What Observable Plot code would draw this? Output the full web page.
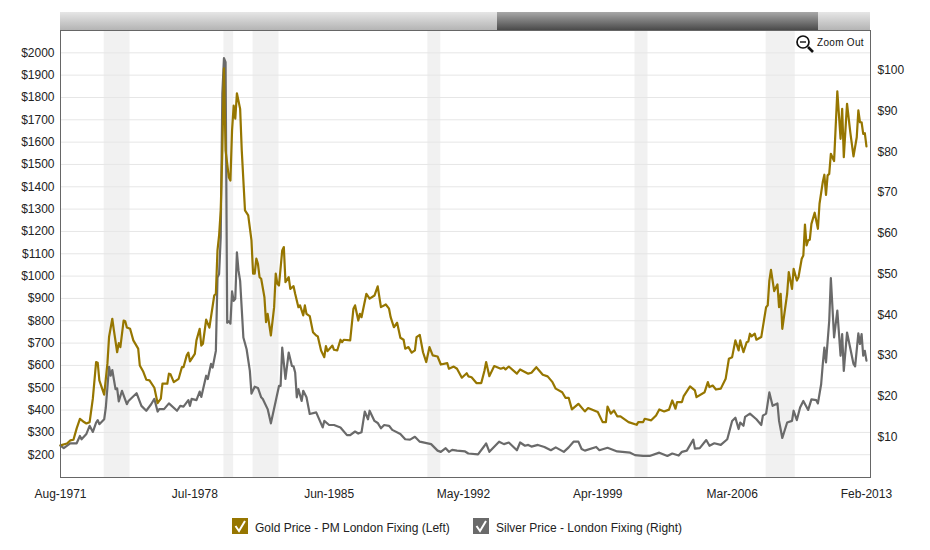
<!DOCTYPE html>
<html>
<head>
<meta charset="utf-8">
<script src="https://cdn.jsdelivr.net/npm/d3@7"></script>
<script src="https://cdn.jsdelivr.net/npm/@observablehq/plot@0.6"></script>
<style>
html,body{margin:0;padding:0;background:#fff;overflow:hidden;font-family:"Liberation Sans",Arial,sans-serif;}
#wrap{position:relative;width:930px;height:550px;}
#wrap svg.plot{position:absolute;left:0;top:0;}
.slide{position:absolute;top:12px;height:18px;}
.light{background:linear-gradient(#e6e6e6,#b4b4b4);}
.dark{background:linear-gradient(#a8a8a8,#4a4a4a);}
.leg{position:absolute;top:518px;height:16px;font-size:12px;line-height:20px;color:#222;white-space:nowrap;}
.leg svg{position:absolute;left:0;top:0;}
.leg span{position:absolute;left:23px;top:0;}
#zoomout{position:absolute;left:795px;top:34px;width:72px;height:20px;font-size:10px;color:#111;}
#zoomout svg{position:absolute;left:0;top:0;}
#zoomout span{position:absolute;left:22px;top:3px;letter-spacing:.3px;white-space:nowrap;}
</style>
</head>
<body>
<div id="wrap"></div>
<script>
// x values are months counted from Aug-1971
const xTickMonths = [0, 83, 166, 249, 332, 415, 498];
const xTickLabels = ["Aug-1971", "Jul-1978", "Jun-1985", "May-1992", "Apr-1999", "Mar-2006", "Feb-2013"];
const goldTicks = [200,300,400,500,600,700,800,900,1000,1100,1200,1300,1400,1500,1600,1700,1800,1900,2000];
const silverTicks = [10,20,30,40,50,60,70,80,90,100];
const recessions = [[27,43],[101,107],[119,135],[227,235],[355,363],[436,454]];
const goldDomain = [98, 2100];
const silverDomain = [0, 109.8];

const goldSeries = [[0,242],[4,250],[6,264],[8,267],[10,318],[12,361],[14,349],[16,340],[18,346],[20,452],[22,615],[23,612],[24,533],[27,469],[29,609],[30,727],[32,809],[33,757],[35,659],[36,700],[37,682],[39,801],[40,798],[41,770],[43,764],[45,712],[48,675],[49,600],[51,574],[53,536],[55,533],[58,500],[60,431],[62,451],[63,518],[66,518],[67,563],[68,560],[70,525],[73,540],[75,592],[76,592],[78,645],[79,657],[80,618],[83,652],[84,712],[86,764],[87,689],[88,697],[90,805],[92,769],[95,913],[96,921],[97,1115],[98,1182],[99,1294],[100,1563],[101,1930],[102,1563],[104,1443],[105,1428],[106,1652],[107,1764],[108,1705],[109,1819],[111,1749],[112,1563],[114,1294],[116,1272],[118,1160],[119,1011],[120,1011],[121,1078],[122,1055],[123,995],[124,988],[126,906],[127,794],[128,831],[130,734],[132,861],[133,1011],[134,966],[135,958],[137,1115],[138,1130],[139,973],[141,995],[142,943],[144,955],[145,921],[147,861],[148,869],[150,824],[151,869],[152,831],[154,821],[156,749],[158,734],[159,730],[161,667],[163,637],[164,686],[165,664],[168,689],[169,670],[171,667],[173,715],[174,704],[175,715],[179,712],[181,854],[182,869],[184,801],[185,831],[186,816],[189,921],[191,899],[194,913],[196,954],[198,861],[201,873],[203,854],[204,816],[206,771],[208,791],[210,724],[212,715],[213,675],[215,682],[217,657],[219,667],[220,727],[222,737],[224,659],[226,615],[228,682],[230,645],[233,640],[235,604],[239,610],[240,585],[243,595],[245,585],[248,545],[251,565],[252,551],[254,547],[257,521],[260,521],[262,577],[263,615],[265,552],[268,597],[272,585],[274,590],[275,582],[277,595],[282,563],[284,582],[289,563],[291,567],[294,592],[298,558],[301,551],[304,525],[306,496],[310,480],[312,455],[314,455],[316,403],[320,428],[324,394],[326,409],[332,391],[335,346],[337,346],[338,416],[340,384],[342,398],[344,372],[346,372],[351,346],[356,334],[357,346],[360,346],[361,361],[365,354],[368,376],[370,403],[373,394],[376,402],[378,443],[380,406],[381,436],[384,436],[385,461],[389,506],[392,488],[393,458],[398,480],[400,525],[401,503],[403,510],[405,492],[408,496],[411,540],[413,630],[415,637],[417,712],[419,667],[420,712],[422,659],[424,704],[425,707],[426,742],[427,730],[429,742],[430,715],[433,727],[436,861],[437,869],[438,980],[439,1028],[441,933],[443,963],[444,861],[445,921],[446,764],[449,921],[450,1018],[452,943],[453,1033],[455,980],[456,995],[458,1078],[459,1092],[460,1231],[461,1137],[462,1160],[463,1163],[464,1234],[466,1284],[468,1212],[469,1324],[471,1421],[472,1454],[473,1364],[474,1451],[475,1458],[476,1548],[478,1515],[480,1828],[482,1615],[483,1749],[484,1533],[486,1772],[488,1645],[490,1536],[492,1622],[493,1742],[494,1689],[495,1689],[496,1637],[497,1640],[498,1581]];

const silverSeries = [[0,7.8],[2,7.2],[6,8.4],[10,8.4],[12,10.2],[13,9.4],[16,10.7],[18,12.7],[20,11.2],[22,13.5],[23,14.1],[24,13.1],[27,14.3],[28,17.2],[30,27.2],[31,25],[32,26.4],[34,21.7],[35,21.9],[36,18.7],[38,21.3],[41,18],[42,18.8],[47,20.7],[50,17.6],[53,16.4],[56,18],[58,19.3],[60,16.2],[61,16.8],[64,16.8],[67,18.2],[72,16.4],[74,17.6],[76,17.4],[79,19],[80,17.6],[81,19.3],[84,19],[86,21.1],[87,19.8],[90,25],[91,24.2],[93,27.9],[94,27],[96,31.1],[97,49.1],[98,50],[99,59],[100,94.3],[101,103],[102,102],[103,38],[104,38.4],[105,37.8],[106,45.7],[107,43.4],[108,43.9],[109,55.3],[110,50.8],[111,48.3],[113,34.4],[115,31.5],[117,26.2],[118,20.6],[120,22.3],[122,22],[124,19.7],[125,19.3],[128,16.8],[130,13.3],[133,18.8],[135,22.5],[136,22.5],[137,31.9],[139,24.2],[141,30.7],[143,27.4],[144,27.3],[145,25.8],[146,19.7],[147,21.7],[149,18.8],[150,21.3],[152,19.7],[154,15.6],[158,16],[162,12.3],[163,13.9],[166,12.9],[169,12.9],[173,12.3],[177,10.4],[179,10.4],[182,11.3],[184,10.8],[186,11.1],[188,16.2],[190,14.3],[191,16.4],[194,13.9],[196,13.4],[198,12.1],[200,12.9],[203,12.7],[205,11.7],[210,10.7],[213,9.4],[216,9.3],[219,10],[222,8.8],[229,8.2],[233,6.6],[235,6.3],[238,7.2],[240,6.3],[242,6.8],[245,6.6],[250,6.4],[252,5.9],[258,5.7],[262,7.8],[263,8.4],[265,6.3],[271,8.8],[274,8.2],[277,8.6],[282,6.7],[284,8.6],[287,7.8],[289,8],[291,7.6],[295,8],[299,7.5],[303,6.7],[306,7.4],[311,6.3],[314,7.4],[317,8.8],[320,8.8],[322,7],[324,6.6],[331,7.5],[333,6.7],[338,7.3],[344,6.4],[352,6.1],[355,5.5],[360,5.3],[364,5.3],[370,6.1],[375,5.3],[378,5.9],[382,5.4],[384,6.3],[387,6.6],[391,9.3],[392,7.1],[395,7.2],[399,9.2],[401,7.8],[404,8.4],[408,8],[412,9.4],[415,13.9],[417,14.7],[419,11.9],[420,13.5],[422,12.7],[423,14.9],[426,15.7],[430,14.3],[433,12.9],[434,15.2],[436,15.7],[438,20.9],[440,17.6],[443,18.2],[444,13.9],[446,9.7],[449,13.5],[452,13.9],[453,16.4],[455,14.1],[457,17.2],[459,18.8],[462,16.6],[464,19.2],[467,19],[468,18.2],[470,22.9],[471,27.8],[472,31.9],[473,28.3],[475,38.5],[476,49],[478,34.4],[480,41],[482,29.9],[483,35.2],[484,26.2],[486,35.6],[490,27.9],[491,27.3],[493,35.4],[494,32.8],[495,35.2],[496,29.9],[497,31.1],[498,28.7]];

const goldLabel = "Gold Price - PM London Fixing (Left)";
const silverLabel = "Silver Price - London Fixing (Right)";
const goldColor = "#967600";
const silverColor = "#6a6a6a";

// Right-hand axis: silver dollars expressed on the shared y scale
const silverToY = d3.scaleLinear(silverDomain, goldDomain);

const chart = Plot.plot({
  width: 930, height: 550,
  marginLeft: 60, marginRight: 60, marginTop: 30, marginBottom: 73,
  style: {fontFamily: '"Liberation Sans", Arial, sans-serif', fontSize: "12px", background: "transparent", color: "#222"},
  x: {domain: [0, 500.5], axis: null},
  y: {domain: goldDomain, axis: null},
  marks: [
    Plot.rectX(recessions, {x1: d => d[0], x2: d => d[1], y1: goldDomain[0], y2: goldDomain[1], fill: "#f1f1f1"}),
    Plot.ruleY(goldTicks, {stroke: "#e6e6e6", strokeWidth: 1}),
    Plot.line(silverSeries, {x: d => d[0], y: d => silverToY(d[1]), stroke: silverColor, strokeWidth: 2.2, strokeLinejoin: "round"}),
    Plot.line(goldSeries, {x: d => d[0], y: d => d[1], stroke: goldColor, strokeWidth: 2.2, strokeLinejoin: "round"}),
    Plot.axisY(goldTicks, {anchor: "left", tickSize: 0, tickPadding: 6, label: null, tickFormat: d => "$" + d, fontSize: 12}),
    Plot.axisY(silverTicks.map(v => silverToY(v)), {anchor: "right", tickSize: 0, tickPadding: 7, label: null, tickFormat: d => "$" + Math.round(silverToY.invert(d)), fontSize: 12}),
    Plot.axisX(xTickMonths, {anchor: "bottom", tickSize: 0, tickPadding: 12, label: null, tickFormat: d => xTickLabels[xTickMonths.indexOf(d)], fontSize: 12}),
    Plot.frame({stroke: "#666", strokeWidth: 1})
  ]
});
chart.classList.add("plot");
const wrap = document.getElementById("wrap");
wrap.appendChild(chart);

// Range slider strip above the plot
const sliderParts = [["light", 60, 437], ["dark", 497, 321], ["light", 818, 52]];
for (const [cls, left, w] of sliderParts) {
  const el = document.createElement("div");
  el.className = "slide " + cls;
  el.style.left = left + "px";
  el.style.width = w + "px";
  wrap.appendChild(el);
}

// Zoom out button
const zo = document.createElement("div");
zo.id = "zoomout";
zo.innerHTML = '<svg width="20" height="20"><circle cx="8" cy="8" r="6" fill="none" stroke="#111" stroke-width="1.7"/><line x1="5" y1="8" x2="11" y2="8" stroke="#111" stroke-width="1.4"/><line x1="13" y1="13" x2="18" y2="18" stroke="#111" stroke-width="2.6"/></svg><span>Zoom Out</span>';
wrap.appendChild(zo);

// Legend
const legendItems = [[goldLabel, goldColor, 232], [silverLabel, silverColor, 473]];
for (const [label, color, left] of legendItems) {
  const el = document.createElement("div");
  el.className = "leg";
  el.style.left = left + "px";
  el.innerHTML = '<svg width="16" height="16"><rect width="16" height="16" fill="' + color + '"/><path d="M3.5 8 L7 13 L13 3" fill="none" stroke="#fff" stroke-width="2"/></svg><span>' + label + '</span>';
  wrap.appendChild(el);
}
</script>
</body>
</html>
